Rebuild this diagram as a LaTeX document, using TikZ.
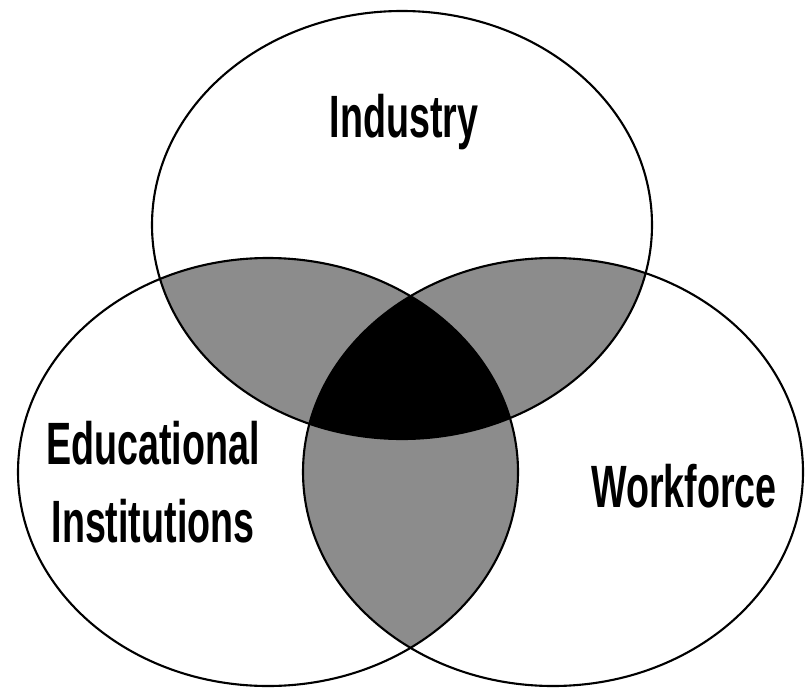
\documentclass[tikz,border=0pt]{standalone}
\usepackage{fontspec}
\setmainfont{Liberation Sans}
\newfontfamily\vennfont{Liberation Sans}[FakeStretch=0.63]
\usetikzlibrary{positioning}

\begin{document}
\begin{tikzpicture}
        \tikzset{ ring/.style ={draw=black, line width=1.2pt} }
        \tikzset{ pair/.style ={fill=black!45} }
        \tikzset{ core/.style ={fill=black} }
        \tikzset{ lbl/.style  ={font=\vennfont\bfseries\fontsize{34}{44}\selectfont, align=center, inner sep=0pt, text=black} }
        \def\rx{5.0}
        \def\ry{4.28}

        \useasboundingbox (0,0) rectangle (16.2,13.76);

        \coordinate (ind) at ( 8.04, 9.26);
        \coordinate (edu) at ( 5.36, 4.32);
        \coordinate (wrk) at (11.06, 4.32);

        % pairwise overlaps
        \begin{scope}
          \clip (ind) ellipse [x radius=\rx, y radius=\ry];
          \fill[pair] (edu) ellipse [x radius=\rx, y radius=\ry];
          \fill[pair] (wrk) ellipse [x radius=\rx, y radius=\ry];
        \end{scope}
        \begin{scope}
          \clip (edu) ellipse [x radius=\rx, y radius=\ry];
          \fill[pair] (wrk) ellipse [x radius=\rx, y radius=\ry];
        \end{scope}

        % all three
        \begin{scope}
          \clip (ind) ellipse [x radius=\rx, y radius=\ry];
          \clip (edu) ellipse [x radius=\rx, y radius=\ry];
          \fill[core] (wrk) ellipse [x radius=\rx, y radius=\ry];
        \end{scope}

        \draw[ring] (ind) ellipse [x radius=\rx, y radius=\ry];
        \draw[ring] (edu) ellipse [x radius=\rx, y radius=\ry];
        \draw[ring] (wrk) ellipse [x radius=\rx, y radius=\ry];

        \node[lbl, anchor=base] (ind_l) at (8.08, 11.0) {Industry};
        \node[lbl] (edu_l) at (3.06, 4.12) {Educational\\Institutions};
        \node[lbl, anchor=base] (wrk_l) at (13.68, 3.62) {Workforce};
\end{tikzpicture}
\end{document}
